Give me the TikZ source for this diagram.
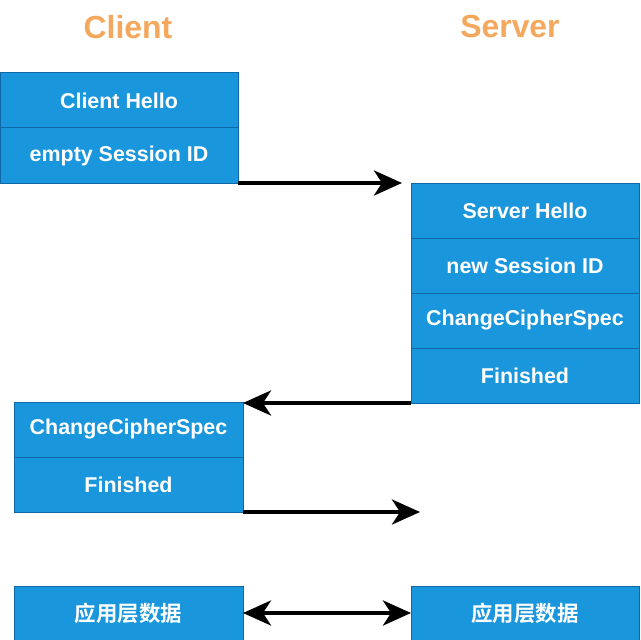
\documentclass[tikz,border=0pt]{standalone}
\usepackage{fontspec}
\setmainfont{Liberation Sans}
\newfontfamily\cjk{Noto Sans CJK SC}[BoldFont={Noto Sans CJK SC Bold}]
\usetikzlibrary{arrows.meta}
\definecolor{boxblue}{HTML}{1A96DC}
\definecolor{boxedge}{HTML}{0F68A6}
\definecolor{headorange}{HTML}{F4A85E}
\tikzset{
  msg/.style={draw=boxedge, fill=boxblue, line width=1bp, inner sep=0pt, outer sep=0pt,
    text=white, font=\fontsize{21.5}{24}\selectfont\bfseries, anchor=north west},
  head/.style={text=headorange, font=\fontsize{32}{36}\selectfont\bfseries},
  flow/.style={line width=4bp, -{Stealth[length=28bp, width=25bp, inset=8bp]}},
  flow2/.style={line width=4bp, {Stealth[length=28bp, width=25bp, inset=8bp]}-{Stealth[length=28bp, width=25bp, inset=8bp]}}
}
\begin{document}
\begin{tikzpicture}[x=1bp, y=-1bp]
\useasboundingbox[fill=white] (0,0) rectangle (640,640);
\node[head] (hc) at (128,27) {Client};
\node[head] (hs) at (510,27) {Server};
% client box 1
\node[msg, minimum width=238bp, minimum height=55bp] (ch) at (0,73) {Client Hello};
\node[msg, minimum width=238bp, minimum height=55bp] (es) at (0,128) {empty Session ID};
% server box
\node[msg, minimum width=228bp, minimum height=55bp] (sh) at (411,183) {Server Hello};
\node[msg, minimum width=228bp, minimum height=55bp] (ns) at (411,238) {new Session ID};
\node[msg, minimum width=228bp, minimum height=55bp] (cs) at (411,293) {ChangeCipherSpec};
\node[msg, minimum width=228bp, minimum height=55bp] (fs) at (411,348) {Finished};
% client box 2
\node[msg, minimum width=229bp, minimum height=55bp] (cc) at (14,402) {ChangeCipherSpec};
\node[msg, minimum width=229bp, minimum height=55bp] (fc) at (14,457) {Finished};
% app data
\node[msg, minimum width=229bp, minimum height=54bp] (al) at (14,586) {\cjk\bfseries 应用层数据};
\node[msg, minimum width=228bp, minimum height=54bp] (ar) at (411,586) {\cjk\bfseries 应用层数据};
% arrows
\coordinate (t1) at (402,183);
\coordinate (t3) at (420,512);
\draw[flow] (es.south east) -- (es.south east -| t1);
\draw[flow] (fs.south west) -- (fs.south west -| cc.east);
\draw[flow] (fc.south east) -- (fc.south east -| t3);
\draw[flow2] (al.east) -- (ar.west);
\end{tikzpicture}
\end{document}
